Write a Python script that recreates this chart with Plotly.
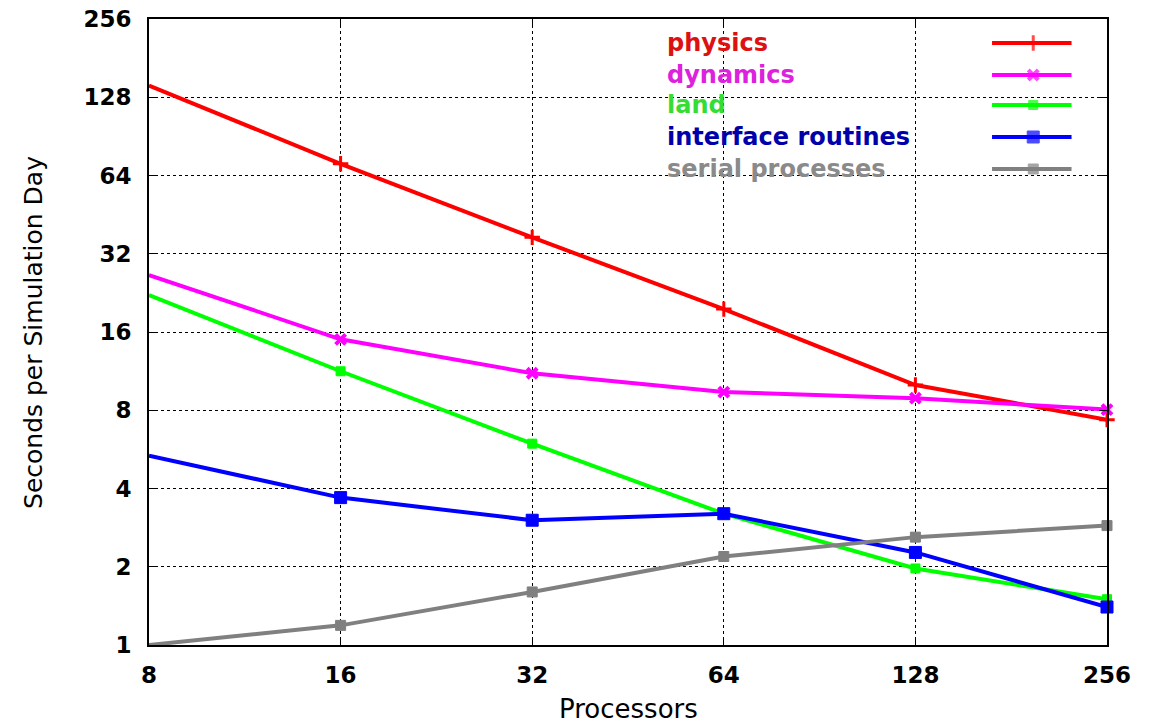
import plotly.graph_objects as go

processors = [8, 16, 32, 64, 128, 256]
physics = [142, 71, 37, 19.6, 10.0, 7.36]
dynamics = [26.5, 15.0, 11.1, 9.4, 8.9, 8.05]
land = [22.2, 11.3, 5.95, 3.2, 1.97, 1.5]
interface = [5.35, 3.69, 3.02, 3.2, 2.27, 1.40]
serial = [1.0, 1.19, 1.60, 2.19, 2.60, 2.88]

series_names = ["physics", "dynamics", "land", "interface routines", "serial processes"]
series_vals = [physics, dynamics, land, interface, serial]
line_colors = ["#ff0000", "#ff00ff", "#00ff00", "#0000ff", "#808080"]
text_colors = ["#dd1111", "#dd22dd", "#33dd33", "#0000aa", "#8a8a8a"]
symbols = ["cross-thin", "x-thin", "square", "square", "square"]
sizes = [11, 10, 9, 12, 10]
mline = [3, 4, 1, 1, 1]

ticks_y = [1, 2, 4, 8, 16, 32, 64, 128, 256]

FONT = "DejaVu Sans, Verdana, sans-serif"

fig = go.Figure()
for name, vals, lc, sym, sz, mw in zip(series_names, series_vals, line_colors, symbols, sizes, mline):
    fig.add_trace(go.Scatter(
        x=processors, y=vals, mode="lines+markers", name=name,
        line=dict(color=lc, width=4),
        marker=dict(symbol=sym, size=sz, color=lc, line=dict(color=lc, width=mw)),
        showlegend=False, cliponaxis=False,
    ))

# legend (text on left, line sample on right) on an overlay axis
leg_y = [0.9617, 0.9105, 0.8626, 0.8115, 0.7604]
for i, (name, lc, sym, sz, mw, tc) in enumerate(zip(series_names, line_colors, symbols, sizes, mline, text_colors)):
    fig.add_trace(go.Scatter(
        x=[0.880, 0.923, 0.963], y=[leg_y[i]] * 3, xaxis="x2", yaxis="y2",
        mode="lines+markers", line=dict(color=lc, width=4),
        marker=dict(symbol=sym, size=[0, sz, 0], color=lc, line=dict(color=lc, width=mw)),
        showlegend=False, hoverinfo="skip",
    ))
    fig.add_annotation(
        x=0.5386, y=leg_y[i], xref="paper", yref="paper", text=name,
        showarrow=False, xanchor="left", yanchor="middle",
        font=dict(family=FONT, size=24, color=tc, weight="bold"),
    )

# axis titles
fig.add_annotation(
    x=0.5, y=-0.102, xref="paper", yref="paper", text="Processors",
    showarrow=False, xanchor="center", yanchor="middle",
    font=dict(family=FONT, size=26, color="black"),
)
fig.add_annotation(
    x=-0.1211, y=0.5, xref="paper", yref="paper", text="Seconds per Simulation Day",
    showarrow=False, xanchor="center", yanchor="middle", textangle=-90,
    font=dict(family=FONT, size=25, color="black"),
)

grid_common = dict(
    showgrid=True, gridcolor="black", griddash="dot", gridwidth=1,
    showline=True, linecolor="black", linewidth=2, mirror="ticks",
    ticks="inside", ticklen=8, tickcolor="black", zeroline=False,
    automargin=False,
    tickfont=dict(family=FONT, size=23, color="black", weight="bold"),
)

fig.update_layout(
    width=1158, height=723,
    margin=dict(l=149, r=51, t=19, b=78),
    paper_bgcolor="white", plot_bgcolor="white",
    showlegend=False,
    xaxis=dict(
        type="log", range=[0.90309, 2.40824], tickvals=processors,
        ticktext=[str(p) for p in processors], ticklabelstandoff=8,
        **grid_common,
    ),
    yaxis=dict(
        type="log", range=[0, 2.40824], tickvals=ticks_y,
        ticktext=[str(t) for t in ticks_y], ticklabelstandoff=11,
        **grid_common,
    ),
    xaxis2=dict(overlaying="x", range=[0, 1], visible=False, anchor="y2"),
    yaxis2=dict(overlaying="y", range=[0, 1], visible=False, anchor="x2"),
)

fig.write_html("out.html")
